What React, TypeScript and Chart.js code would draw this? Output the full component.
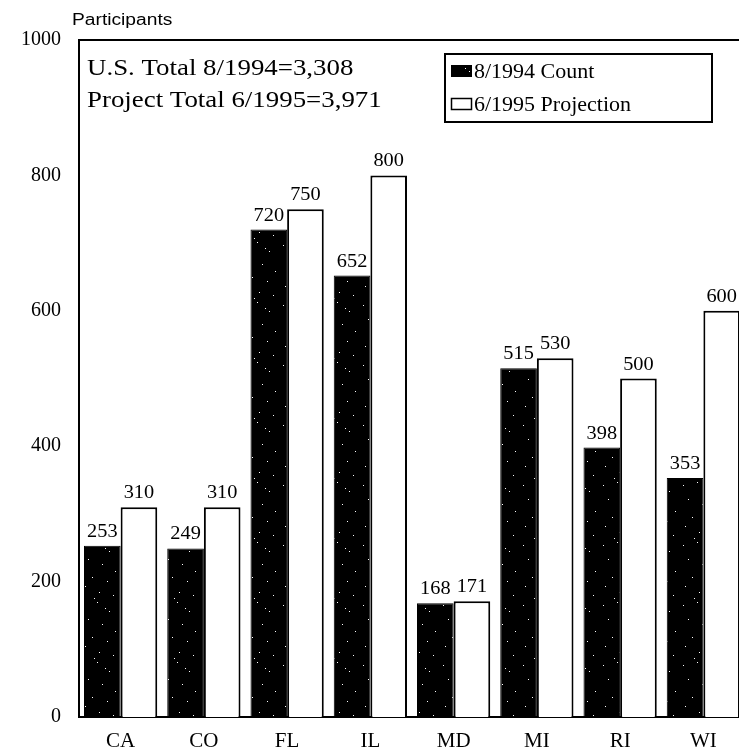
import React, { useEffect, useRef } from "react";
import { Chart, registerables } from "chart.js";

Chart.register(...registerables);

const categories = ["CA", "CO", "FL", "IL", "MD", "MI", "RI", "WI"];
const count1994 = [253, 249, 720, 652, 168, 515, 398, 353];
const projection1995 = [310, 310, 750, 800, 171, 530, 500, 600];
const yTicks = [0, 200, 400, 600, 800, 1000];
const seriesNames = ["8/1994 Count", "6/1995 Projection"];
const axisTitle = "Participants";
const noteLines = ["U.S. Total 8/1994=3,308", "Project Total 6/1995=3,971"];

const SERIF = '"Liberation Serif", "Times New Roman", serif';
const SANS = '"Liberation Sans", Arial, sans-serif';

// fixed speckle positions for the dark bar texture (style only)
const speckles = [
  [3, 5], [17, 2], [29, 11], [8, 19], [22, 24], [35, 31], [12, 37], [27, 41],
  [5, 46], [19, 52], [33, 55], [25, 8], [14, 58],
];

function makePattern(): CanvasPattern | string {
  const c = document.createElement("canvas");
  c.width = 40;
  c.height = 60;
  const g = c.getContext("2d");
  if (!g) return "#000";
  g.fillStyle = "#000";
  g.fillRect(0, 0, 40, 60);
  g.fillStyle = "#fff";
  speckles.forEach(([x, y]) => g.fillRect(x, y, 1, 1));
  const p = g.createPattern(c, "repeat");
  return p || "#000";
}

function stretchText(
  ctx: CanvasRenderingContext2D,
  text: string,
  x: number,
  y: number,
  font: string,
  sx: number,
  align: CanvasTextAlign
) {
  ctx.save();
  ctx.font = font;
  ctx.textAlign = align;
  ctx.translate(x, y);
  ctx.scale(sx, 1);
  ctx.fillText(text, 0, 0);
  ctx.restore();
}

const decorPlugin = {
  id: "decor",
  afterDatasetsDraw(chart: any) {
    const { ctx, chartArea } = chart;
    ctx.save();
    // top frame line
    ctx.strokeStyle = "#000";
    ctx.lineWidth = 2;
    ctx.beginPath();
    ctx.moveTo(chartArea.left - 1, chartArea.top);
    ctx.lineTo(chartArea.right + 10, chartArea.top);
    ctx.stroke();

    ctx.fillStyle = "#000";
    ctx.textBaseline = "alphabetic";
    // value labels
    chart.data.datasets.forEach((ds: any, di: number) => {
      const meta = chart.getDatasetMeta(di);
      meta.data.forEach((bar: any, i: number) => {
        stretchText(ctx, String(ds.data[i]), bar.x, bar.y - 9, `19px ${SERIF}`, 1.07, "center");
      });
    });

    // axis title
    stretchText(ctx, axisTitle, 72, 25, `16px ${SANS}`, 1.2, "left");

    // notes
    stretchText(ctx, noteLines[0], 87, 75, `24px ${SERIF}`, 1.12, "left");
    stretchText(ctx, noteLines[1], 87, 107, `24px ${SERIF}`, 1.12, "left");

    // legend box
    ctx.lineWidth = 2;
    ctx.strokeRect(445, 54, 267, 68);
    const pat = chart.data.datasets[0].backgroundColor;
    ctx.fillStyle = pat;
    ctx.fillRect(451, 65, 21, 12);
    ctx.fillStyle = "#fff";
    ctx.fillRect(451, 98, 21, 12);
    ctx.lineWidth = 1.5;
    ctx.strokeRect(451.5, 98.5, 20, 11);
    ctx.fillStyle = "#000";
    stretchText(ctx, seriesNames[0], 474, 78, `20px ${SERIF}`, 1.1, "left");
    stretchText(ctx, seriesNames[1], 474, 111, `20px ${SERIF}`, 1.1, "left");
    ctx.restore();
  },
};

export default function App() {
  const ref = useRef<HTMLCanvasElement>(null);
  useEffect(() => {
    if (!ref.current) return;
    const pattern = makePattern();
    const chart = new Chart(ref.current, {
      type: "bar",
      data: {
        labels: categories,
        datasets: [
          {
            label: seriesNames[0],
            data: count1994,
            backgroundColor: pattern as any,
            borderColor: "#000",
            borderWidth: 1,
          },
          {
            label: seriesNames[1],
            data: projection1995,
            backgroundColor: "#fff",
            borderColor: "#000",
            borderWidth: 2,
            borderSkipped: "bottom",
          },
        ],
      },
      options: {
        animation: false,
        responsive: false,
        devicePixelRatio: 1,
        layout: { padding: { left: 0, right: 0, top: 40, bottom: 0 } },
        datasets: {
          bar: { categoryPercentage: 0.88, barPercentage: 1.0 },
        },
        plugins: {
          legend: { display: false },
          tooltip: { enabled: false },
          title: { display: false },
        },
        scales: {
          x: {
            type: "category",
            offset: true,
            grid: { display: false, drawTicks: false },
            border: { display: true, color: "#000", width: 2 },
            ticks: {
              color: "#000",
              font: { family: SERIF, size: 21 },
              padding: 12,
              maxRotation: 0,
            },
            afterFit: (s: any) => {
              s.height = 32;
            },
          },
          y: {
            min: 0,
            max: 1000,
            afterBuildTicks: (s: any) => {
              s.ticks = yTicks.map((v) => ({ value: v }));
            },
            grid: { display: false, drawTicks: false },
            border: { display: true, color: "#000", width: 2 },
            ticks: {
              color: "#000",
              font: { family: SERIF, size: 20 },
              padding: 18,
              callback: (v: any) => String(v),
            },
            afterFit: (s: any) => {
              s.width = 79;
            },
          },
        },
      },
      plugins: [decorPlugin],
    });
    return () => chart.destroy();
  }, []);
  return (
    <div
      style={{
        position: "absolute",
        left: 0,
        top: 0,
        width: 739,
        height: 749,
        overflow: "hidden",
        background: "#fff",
      }}
    >
      <canvas ref={ref} width={745} height={749} style={{ display: "block" }} />
    </div>
  );
}
